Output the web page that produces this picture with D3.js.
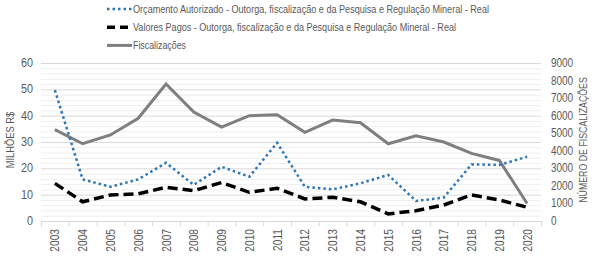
<!DOCTYPE html>
<html>
<head>
<meta charset="utf-8">
<script src="https://cdn.jsdelivr.net/npm/d3@7"></script>
<style>
  body { margin: 0; background: #fff; }
  text { font-family: "Liberation Sans Narrow", "Arial Narrow", "Liberation Sans", sans-serif; fill: #595959; }
</style>
</head>
<body>
<div id="chart"></div>
<script>
const years = ["2003","2004","2005","2006","2007","2008","2009","2010","2011","2012","2013","2014","2015","2016","2017","2018","2019","2020"];
const orcamento = [49.7, 15.8, 13.0, 15.8, 22.1, 13.7, 20.6, 16.8, 29.7, 13.0, 12.0, 14.3, 17.5, 7.6, 8.9, 21.5, 21.3, 24.4];
const pagos = [14.3, 7.3, 9.9, 10.3, 12.8, 11.5, 14.6, 10.9, 12.4, 8.4, 9.0, 7.3, 2.7, 3.9, 6.1, 9.9, 8.0, 5.2];
const fiscalizacoes = [5200, 4400, 4900, 5850, 7800, 6200, 5350, 6000, 6050, 5050, 5750, 5600, 4400, 4850, 4500, 3850, 3450, 1000];
const leftTicks = [0, 10, 20, 30, 40, 50, 60];
const rightTicks = [0, 1000, 2000, 3000, 4000, 5000, 6000, 7000, 8000, 9000];
const legendLabels = [
  "Orçamento Autorizado - Outorga, fiscalização e da Pesquisa e Regulação Mineral - Real",
  "Valores Pagos - Outorga, fiscalização e da Pesquisa e Regulação Mineral - Real",
  "Fiscalizações"
];

const W = 594, H = 258;
const margin = { top: 63, right: 53, bottom: 37, left: 41 };
const width = W - margin.left - margin.right;
const height = H - margin.top - margin.bottom;

// squeeze text to look like a narrow face (no narrow font installed)
function narrow(sel, k) {
  sel.each(function() {
    const len = this.getComputedTextLength();
    d3.select(this).attr("textLength", len * k).attr("lengthAdjust", "spacingAndGlyphs");
  });
}

const svg = d3.select("#chart").append("svg")
  .attr("width", W).attr("height", H);
const g = svg.append("g")
  .attr("transform", "translate(" + margin.left + "," + margin.top + ")");

const x = d3.scaleBand().domain(years).range([0, width]);
const yL = d3.scaleLinear().domain([0, 60]).range([height, 0]);
const yR = d3.scaleLinear().domain([0, 9000]).range([height, 0]);

// minor + major gridlines
g.append("g").selectAll("line")
  .data(d3.range(0, 61, 2).filter(v => v % 10 !== 0))
  .join("line")
  .attr("x1", 0).attr("x2", width)
  .attr("y1", d => yL(d) + 0.5).attr("y2", d => yL(d) + 0.5)
  .attr("stroke", "#efefef").attr("stroke-width", 1);
g.append("g").selectAll("line")
  .data(leftTicks.filter(v => v > 0))
  .join("line")
  .attr("x1", 0).attr("x2", width)
  .attr("y1", d => yL(d) + 0.5).attr("y2", d => yL(d) + 0.5)
  .attr("stroke", "#d9d9d9").attr("stroke-width", 1);

// x axis
const xAxis = g.append("g")
  .attr("transform", "translate(0," + height + ")");
xAxis.append("line")
  .attr("x1", 0).attr("x2", width).attr("y1", 0.5).attr("y2", 0.5)
  .attr("stroke", "#d9d9d9");
xAxis.selectAll("line.tick")
  .data(years.concat(["end"]))
  .join("line")
  .attr("class", "tick")
  .attr("x1", (d, i) => i * x.step() + 0.5).attr("x2", (d, i) => i * x.step() + 0.5)
  .attr("y1", 0).attr("y2", 5)
  .attr("stroke", "#d9d9d9");
xAxis.selectAll("text")
  .data(years)
  .join("text")
  .attr("transform", d => "translate(" + (x(d) + x.bandwidth() / 2 + 4.5) + ",8) rotate(-90)")
  .attr("text-anchor", "end")
  .attr("font-size", 12)
  .text(d => d)
  .call(narrow, 0.85);

// left axis labels
g.append("g").selectAll("text")
  .data(leftTicks)
  .join("text")
  .attr("x", -8).attr("y", d => yL(d) + 4)
  .attr("text-anchor", "end")
  .attr("font-size", 12)
  .text(d => d)
  .call(narrow, 0.9);

// right axis labels
g.append("g").selectAll("text")
  .data(rightTicks)
  .join("text")
  .attr("x", width + 10).attr("y", d => yR(d) + 4)
  .attr("text-anchor", "start")
  .attr("font-size", 12)
  .text(d => d)
  .call(narrow, 0.83);

svg.append("text")
  .attr("transform", "translate(14," + (margin.top + height / 2 - 2) + ") rotate(-90)")
  .attr("text-anchor", "middle")
  .attr("font-size", 11)
  .text("MILHÕES R$")
  .call(narrow, 0.85);

svg.append("text")
  .attr("transform", "translate(587," + (margin.top + height / 2 - 2) + ") rotate(-90)")
  .attr("text-anchor", "middle")
  .attr("font-size", 11)
  .text("NÚMERO DE FISCALIZAÇÕES")
  .call(narrow, 0.8);

const cx = d => x(d) + x.bandwidth() / 2;

const lineL = d3.line().x((d, i) => cx(years[i])).y(d => yL(d));
const lineR = d3.line().x((d, i) => cx(years[i])).y(d => yR(d));

g.append("path").datum(fiscalizacoes)
  .attr("fill", "none").attr("stroke", "#7f7f7f").attr("stroke-width", 3)
  .attr("d", lineR);

g.append("path").datum(orcamento)
  .attr("fill", "none").attr("stroke", "#2e75b6").attr("stroke-width", 2.5)
  .attr("stroke-dasharray", "2.5,3")
  .attr("d", lineL);

g.append("path").datum(pagos)
  .attr("fill", "none").attr("stroke", "#000").attr("stroke-width", 3.5)
  .attr("stroke-dasharray", "10,5")
  .attr("d", lineL);

// legend
const legend = svg.append("g").attr("transform", "translate(107,0)");
const legendStyles = [
  { color: "#2e75b6", width: 2.5, dash: "2.5,3" },
  { color: "#000", width: 3.5, dash: "8,5" },
  { color: "#7f7f7f", width: 3, dash: null }
];
const legendWidths = [356, 323, 53];
legendLabels.forEach((label, i) => {
  const yy = 9 + i * 18.2;
  legend.append("line")
    .attr("x1", 0).attr("x2", 25).attr("y1", yy).attr("y2", yy)
    .attr("stroke", legendStyles[i].color)
    .attr("stroke-width", legendStyles[i].width)
    .attr("stroke-dasharray", legendStyles[i].dash);
  legend.append("text")
    .attr("x", 26).attr("y", yy + 4)
    .attr("font-size", 11.5)
    .attr("textLength", legendWidths[i])
    .attr("lengthAdjust", "spacingAndGlyphs")
    .text(label);
});
</script>
</body>
</html>
